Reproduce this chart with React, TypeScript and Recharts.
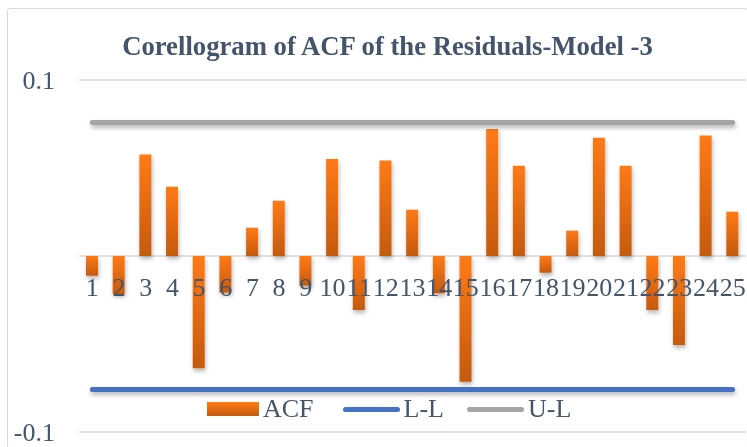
import { ComposedChart, Bar, Line, XAxis, YAxis, CartesianGrid, Legend, LabelList } from 'recharts';

const lags = ['1', '2', '3', '4', '5', '6', '7', '8', '9', '10', '11', '12', '13', '14', '15', '16', '17', '18', '19', '20', '21', '22', '23', '24', '25'];
const acf = [-0.0112, -0.0216, 0.0576, 0.0394, -0.0638, -0.0208, 0.0161, 0.0314, -0.0169, 0.0551, -0.0307, 0.0542, 0.0263, -0.0212, -0.0714, 0.0722, 0.0513, -0.0095, 0.0144, 0.0672, 0.0513, -0.0307, -0.0506, 0.0684, 0.0252];
const lowerLimit = [-0.0758, -0.0758, -0.0758, -0.0758, -0.0758, -0.0758, -0.0758, -0.0758, -0.0758, -0.0758, -0.0758, -0.0758, -0.0758, -0.0758, -0.0758, -0.0758, -0.0758, -0.0758, -0.0758, -0.0758, -0.0758, -0.0758, -0.0758, -0.0758, -0.0758];
const upperLimit = [0.0758, 0.0758, 0.0758, 0.0758, 0.0758, 0.0758, 0.0758, 0.0758, 0.0758, 0.0758, 0.0758, 0.0758, 0.0758, 0.0758, 0.0758, 0.0758, 0.0758, 0.0758, 0.0758, 0.0758, 0.0758, 0.0758, 0.0758, 0.0758, 0.0758];
const yTicks = [-0.1, 0, 0.1];

const data = lags.map((lag, i) => ({ lag, acf: acf[i], ll: lowerLimit[i], ul: upperLimit[i], zero: 0 }));

const FONT = '"Liberation Serif", "Times New Roman", serif';
const TEXT = '#44546A';

function LegendContent() {
  const item = (icon: JSX.Element, label: string, ml: number) => (
    <div style={{ display: 'flex', alignItems: 'center', marginLeft: ml }}>
      {icon}
      <span style={{ marginLeft: 4 }}>{label}</span>
    </div>
  );
  return (
    <div style={{ display: 'flex', alignItems: 'center', paddingLeft: 199, fontFamily: FONT, fontSize: 26, color: TEXT, lineHeight: '28px' }}>
      {item(<div style={{ width: 52, height: 14, background: 'linear-gradient(#FF7A12, #C55A11)' }} />, 'ACF', 0)}
      {item(<div style={{ width: 57, height: 5, borderRadius: 3, background: '#4472C4' }} />, 'L-L', 29)}
      {item(<div style={{ width: 57, height: 5, borderRadius: 3, background: '#A5A5A5' }} />, 'U-L', 23)}
    </div>
  );
}

export default function App() {
  return (
    <div style={{ position: 'fixed', left: 7, top: 8, width: 739, height: 439, border: '1px solid #D9D9D9', borderRadius: 3, background: '#fff', overflow: 'hidden' }}>
      <div style={{ position: 'absolute', top: 22, left: 0, width: 739, textAlign: 'center', fontFamily: FONT, fontWeight: 'bold', fontSize: 26.7, color: TEXT, paddingLeft: 20, boxSizing: 'border-box' }}>
        Corellogram of ACF of the Residuals-Model -3
      </div>
      <ComposedChart width={739} height={439} data={data} margin={{ top: 71, right: 1, bottom: 16, left: 11 }}>
        <defs>
          <linearGradient id="acfGradient" x1="0" y1="0" x2="0" y2="1">
            <stop offset="0%" stopColor="#FF7A12" />
            <stop offset="100%" stopColor="#C55A11" />
          </linearGradient>
          <filter id="shadow" filterUnits="userSpaceOnUse" x="0" y="0" width="747" height="447">
            <feDropShadow dx="1" dy="3" stdDeviation="2" floodColor="#000" floodOpacity="0.28" />
          </filter>
        </defs>
        <CartesianGrid vertical={false} stroke="#D9D9D9" strokeWidth={1.5} />
        <XAxis dataKey="lag" hide />
        <YAxis
          width={60}
          domain={[-0.1, 0.1]}
          ticks={yTicks}
          axisLine={false}
          tickLine={false}
          tickSize={0}
          tickMargin={24}
          tickFormatter={(v: number) => (v === 0 ? '' : String(v))}
          tick={{ fill: TEXT, fontSize: 26, fontFamily: FONT }}
        />
        <Bar dataKey="acf" name="ACF" barSize={12} fill="url(#acfGradient)" filter="url(#shadow)" isAnimationActive={false} />
        <Line dataKey="zero" legendType="none" stroke="none" dot={false} activeDot={false} isAnimationActive={false}>
          <LabelList
            dataKey="lag"
            content={(p: any) => (
              <text x={p.x} y={p.y + 40} textAnchor="middle" fill={TEXT} fontSize={26} fontFamily={FONT}>
                {p.value}
              </text>
            )}
          />
        </Line>
        <Line dataKey="ll" name="L-L" stroke="#4472C4" strokeWidth={5} strokeLinecap="round" dot={false} activeDot={false} filter="url(#shadow)" isAnimationActive={false} />
        <Line dataKey="ul" name="U-L" stroke="#A5A5A5" strokeWidth={5} strokeLinecap="round" dot={false} activeDot={false} filter="url(#shadow)" isAnimationActive={false} />
        <Legend verticalAlign="middle" align="center" wrapperStyle={{ top: 386, left: 0, width: 739 }} content={() => <LegendContent />} />
      </ComposedChart>
    </div>
  );
}
